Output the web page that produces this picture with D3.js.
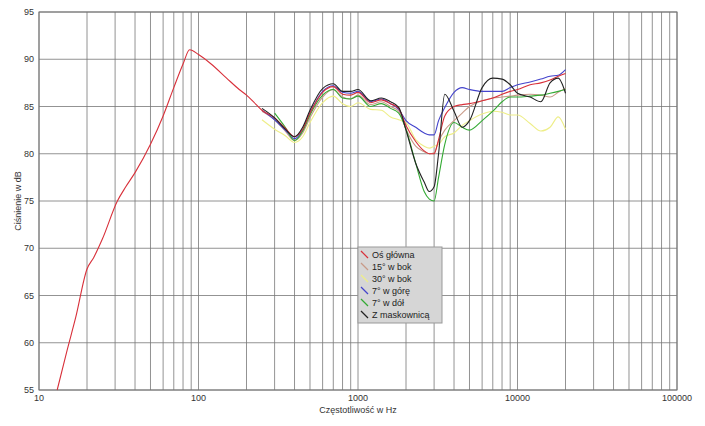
<!DOCTYPE html><html><head><meta charset="utf-8">
<script src="https://cdn.jsdelivr.net/npm/d3@7"></script>
<style>body{margin:0;background:#fff}text{font-family:"Liberation Sans",Arial,sans-serif}</style></head><body>
<svg id="c" width="705" height="426"></svg>
<script>
const mainFreq=[13,15,17,20,22,25,31,35,40,50,60,70,80,88,100,120,150,180,200,230];
const mainVals=[55,59.2,62.7,67.8,69,71,75,76.5,78,81,84,87,89.5,91,90.5,89.5,88,86.8,86.2,85.2];
const freqs=[250,300,350,400,450,500,600,700,800,900,1000,1200,1400,1600,1800,2000,2300,2600,2800,3000,3200,3500,4000,4500,5000,6000,7000,8000,9000,10000,12000,14000,16000,18000,20000];
const osGlowna=[84.6,83.8,82.7,81.8,82.6,84.3,86.5,87.1,86.3,86.2,86.5,85.4,85.7,85.3,84.8,83.0,81.3,80.3,80.0,80.0,81.5,84.0,85.0,85.2,85.3,85.6,85.9,86.3,86.6,86.8,87.3,87.5,87.8,88.2,88.5];
const bok15=[84.5,83.6,82.4,81.4,82.2,83.8,86.0,86.8,86.0,85.8,86.2,85.2,85.5,85.0,84.5,82.6,80.8,80.2,80.0,80.1,81.3,82.5,83.5,84.3,85.0,85.6,85.9,86.0,86.1,86.2,86.3,86.2,86.0,86.5,86.9];
const bok30=[83.6,82.6,81.9,81.2,81.8,83.3,85.4,86.1,85.3,85.0,85.4,84.7,84.6,83.9,83.6,83.3,81.5,80.8,80.6,80.8,81.0,81.8,82.2,83.0,83.5,84.2,84.5,84.4,84.1,84.1,83.2,82.4,82.8,83.9,82.6];
const gora7=[84.6,83.6,82.5,81.6,82.5,84.3,86.6,87.2,86.5,86.4,86.6,85.5,85.8,85.3,84.7,83.5,82.8,82.2,82.0,82.0,83.5,84.9,86.5,87,86.8,86.6,86.6,86.6,87,87.3,87.6,87.9,88.2,88.3,88.9];
const dol7=[null,84.3,82.8,81.4,82.4,84.1,86.2,86.8,85.9,85.8,86.1,85,85.3,84.8,84.3,82.6,79,76,75.2,75,77.5,81,83.3,82.8,82.5,83.5,84.5,85.5,86.0,86.0,86.1,86.2,86.4,86.6,86.8];
const maskownica=[84.8,83.8,82.6,81.8,82.8,84.6,86.9,87.4,86.6,86.6,86.8,85.6,85.9,85.5,84.9,82.5,79,77,76,76.5,80,86.3,84.5,82.8,83.5,87,88,87.9,87.3,86.4,86,85.5,87.5,88,86.4];
const names=["Oś główna","15° w bok","30° w bok","7° w górę","7° w dół","Z maskownicą"];
const colors=["#d8303a","#c89a88","#eeee88","#4444cc","#33aa33","#222222"];
const series=[osGlowna,bok15,bok30,gora7,dol7,maskownica];
const yTicks=[55,60,65,70,75,80,85,90,95];
const xTicks=[10,100,1000,10000,100000];

const svg=d3.select("#c");
const x=d3.scaleLog().domain([10,100000]).range([39,677]);
const y=d3.scaleLinear().domain([55,95]).range([390,12]);
const g=svg.append("g");
const minor=[];for(let d=10;d<100000;d*=10)for(let k=1;k<10;k++)minor.push(d*k);minor.push(100000);
g.selectAll(".v").data(minor).enter().append("line").attr("x1",d=>x(d)).attr("x2",d=>x(d)).attr("y1",12).attr("y2",390).attr("stroke","#777").attr("stroke-width",0.8);
g.selectAll(".h").data(yTicks).enter().append("line").attr("x1",39).attr("x2",677).attr("y1",d=>y(d)).attr("y2",d=>y(d)).attr("stroke","#777").attr("stroke-width",0.8);
g.append("rect").attr("x",39).attr("y",12).attr("width",638).attr("height",378).attr("fill","none").attr("stroke","#777");
g.selectAll(".yl").data(yTicks).enter().append("text").attr("x",34).attr("y",d=>y(d)+3).attr("text-anchor","end").attr("font-size",9).attr("fill","#333").text(d=>d);
g.selectAll(".xl").data(xTicks).enter().append("text").attr("x",d=>x(d)).attr("y",401).attr("text-anchor","middle").attr("font-size",9).attr("fill","#333").text(d=>d);
svg.append("text").attr("x",358).attr("y",413).attr("text-anchor","middle").attr("font-size",9).attr("fill","#333").text("Częstotliwość w Hz");
svg.append("text").attr("transform","translate(21,201) rotate(-90)").attr("text-anchor","middle").attr("font-size",9).attr("fill","#333").text("Ciśnienie w dB");
const line=d3.line().defined(d=>d[1]!=null).x(d=>x(d[0])).y(d=>y(d[1])).curve(d3.curveMonotoneX);
const order=[2,1,3,4,0,5];
order.forEach(i=>{
  let pts=freqs.map((f,j)=>[f,series[i][j]]);
  if(i===0)pts=mainFreq.map((f,j)=>[f,mainVals[j]]).concat(pts);
  svg.append("path").attr("d",line(pts)).attr("fill","none").attr("stroke",colors[i]).attr("stroke-width",1.1);
});
const lg=svg.append("g").attr("transform","translate(358,247)");
lg.append("rect").attr("width",84).attr("height",76).attr("fill","#d6d6d6").attr("stroke","#999");
names.forEach((n,i)=>{
  const yy=8+i*12;
  lg.append("line").attr("x1",3).attr("x2",10).attr("y1",yy-4).attr("y2",yy+3).attr("stroke",colors[i]).attr("stroke-width",1.2);
  lg.append("text").attr("x",14).attr("y",yy+3).attr("font-size",9).attr("fill","#222").text(n);
});
</script></body></html>
